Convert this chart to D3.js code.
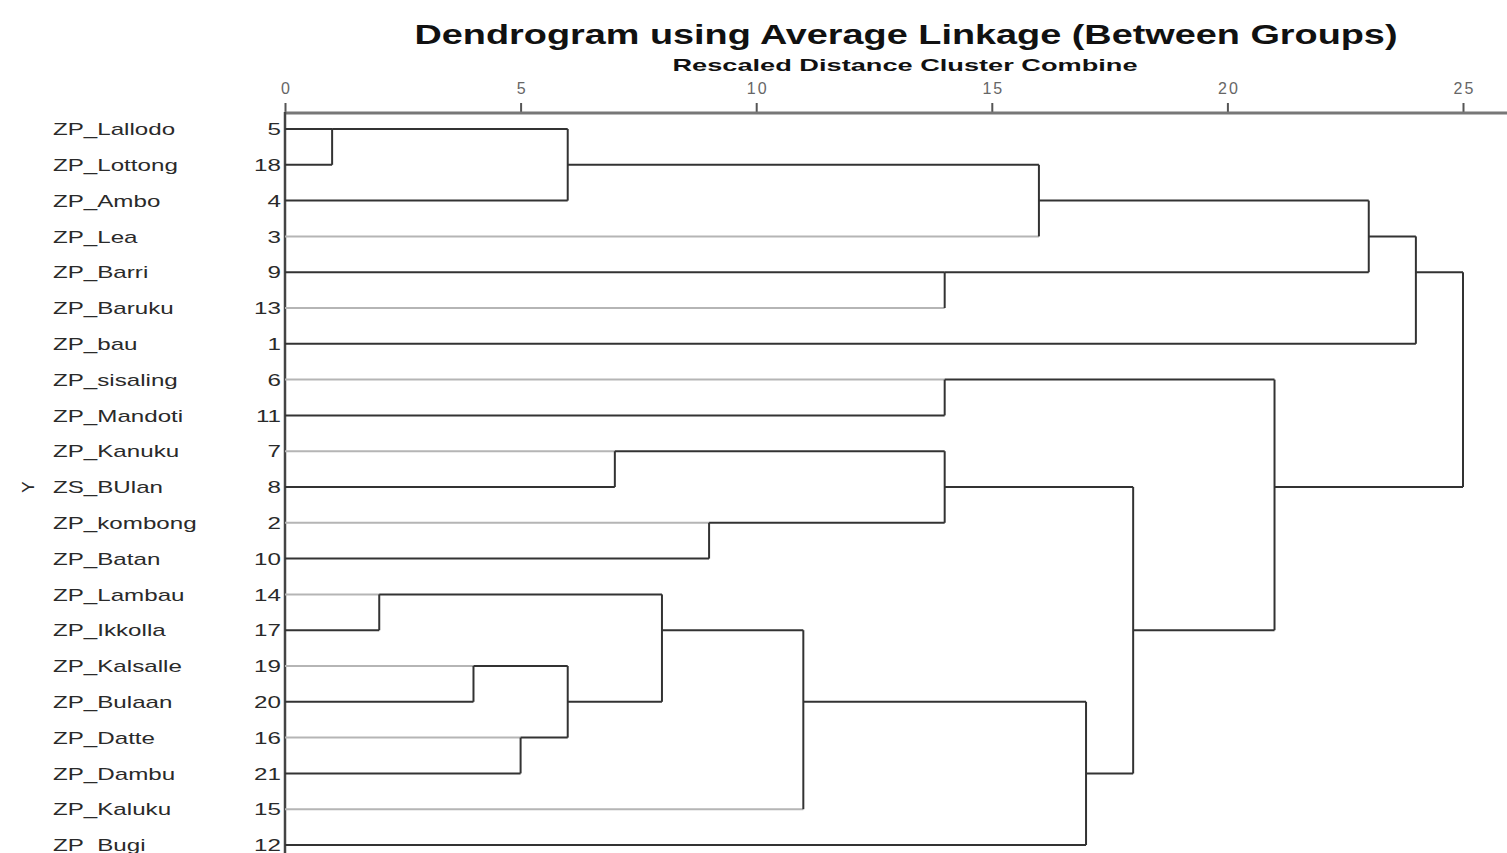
<!DOCTYPE html>
<html>
<head>
<meta charset="utf-8">
<script src="https://cdn.jsdelivr.net/npm/d3@7"></script>
<style>
    body { margin: 0; background: #fff; }
    svg { display: block; }
    .title { font-family: "Liberation Sans", Arial, sans-serif; font-weight: bold; fill: #111; }
    .label { font-family: "Liberation Sans", Arial, sans-serif; font-size: 17px; fill: #2a2a2a; }
    .link { fill: none; stroke: #333; stroke-width: 2; }
    .link.light { stroke: #b5b5b5; }
    .axis text { font-family: "Liberation Sans", Arial, sans-serif; font-size: 16px; fill: #666; letter-spacing: 2px; }
</style>
</head>
<body>
<script>
// Leaves in display order (case number, label)
const caseIds = [5, 18, 4, 3, 9, 13, 1, 6, 11, 7, 8, 2, 10, 14, 17, 19, 20, 16, 21, 15, 12];
const caseNames = [
    "ZP_Lallodo", "ZP_Lottong", "ZP_Ambo", "ZP_Lea", "ZP_Barri", "ZP_Baruku", "ZP_bau",
    "ZP_sisaling", "ZP_Mandoti", "ZP_Kanuku", "ZS_BUlan", "ZP_kombong", "ZP_Batan",
    "ZP_Lambau", "ZP_Ikkolla", "ZP_Kalsalle", "ZP_Bulaan", "ZP_Datte", "ZP_Dambu",
    "ZP_Kaluku", "ZP_Bugi"
];

// Agglomeration schedule: cluster (named by its top case) + cluster, rescaled distance
const mergeA = [5, 14, 19, 16, 5, 19, 7, 14, 2, 14, 9, 6, 7, 5, 14, 7, 6, 5, 5, 5];
const mergeB = [18, 17, 20, 21, 4, 16, 8, 19, 10, 15, 13, 11, 2, 3, 12, 14, 7, 9, 1, 6];
const mergeDist = [1, 2, 4, 5, 6, 6, 7, 8, 9, 11, 14, 14, 14, 16, 17, 18, 21, 23, 24, 25];

const distTicks = [0, 5, 10, 15, 20, 25];

const W = 1507, H = 853;
const svg = d3.select("body").append("svg").attr("width", W).attr("height", H);

const x = d3.scaleLinear().domain([0, 25]).range([285, 1463]);
const y = d3.scaleLinear().domain([0, caseIds.length - 1]).range([129, 845]);

// Titles
svg.append("text").attr("class", "title")
    .attr("x", 906).attr("y", 44)
    .attr("text-anchor", "middle")
    .attr("font-size", 27)
    .attr("textLength", 983).attr("lengthAdjust", "spacingAndGlyphs")
    .text("Dendrogram using Average Linkage (Between Groups)");

svg.append("text").attr("class", "title")
    .attr("x", 905).attr("y", 71)
    .attr("text-anchor", "middle")
    .attr("font-size", 17)
    .attr("textLength", 465).attr("lengthAdjust", "spacingAndGlyphs")
    .text("Rescaled Distance Cluster Combine");

// Top axis
const axis = svg.append("g").attr("class", "axis")
    .attr("transform", "translate(0,113)")
    .call(d3.axisTop(x).tickValues(distTicks).tickSize(10).tickPadding(9));
axis.select(".domain").remove();
axis.selectAll(".tick line").attr("stroke", "#555").attr("stroke-width", 2);
axis.selectAll(".tick text").attr("dx", 1);

svg.append("line")
    .attr("x1", x(0)).attr("x2", W)
    .attr("y1", 113).attr("y2", 113)
    .attr("stroke", "#777").attr("stroke-width", 3);

svg.append("line")
    .attr("x1", x(0)).attr("x2", x(0))
    .attr("y1", 112).attr("y2", H)
    .attr("stroke", "#444").attr("stroke-width", 2.5);

// Leaf labels, stretched wide like the SPSS output
function stretch(sel) {
    sel.each(function () {
        const len = this.getComputedTextLength();
        d3.select(this).attr("textLength", len * 1.42).attr("lengthAdjust", "spacingAndGlyphs");
    });
}

const labels = svg.append("g");
caseIds.forEach((id, i) => {
    labels.append("text").attr("class", "label")
        .attr("x", 53).attr("y", y(i)).attr("dy", "0.36em")
        .text(caseNames[i])
        .call(stretch);
    labels.append("text").attr("class", "label")
        .attr("x", 281).attr("y", y(i)).attr("dy", "0.36em")
        .attr("text-anchor", "end")
        .text(id)
        .call(stretch);
});

svg.append("text").attr("class", "label")
    .attr("transform", "translate(34,487) rotate(-90)")
    .attr("text-anchor", "middle")
    .text("Y");

// Build the tree from the schedule
const nodes = new Map();
caseIds.forEach((id, i) => nodes.set(id, { row: i, dist: 0, leaf: true }));

const links = svg.append("g");
mergeA.forEach((a, k) => {
    const na = nodes.get(a), nb = nodes.get(mergeB[k]);
    const d = mergeDist[k];
    const row = Math.floor((na.row + nb.row) / 2);
    [na, nb].forEach(c => {
        links.append("line")
            .attr("class", c.leaf && c.row % 2 === 1 && c.row > 1 ? "link light" : "link")
            .attr("x1", x(c.dist)).attr("x2", x(d))
            .attr("y1", y(c.row)).attr("y2", y(c.row));
    });
    links.append("line").attr("class", "link")
        .attr("x1", x(d)).attr("x2", x(d))
        .attr("y1", y(Math.min(na.row, nb.row))).attr("y2", y(Math.max(na.row, nb.row)));
    nodes.set(a, { row: row, dist: d, leaf: false });
});
</script>
</body>
</html>
